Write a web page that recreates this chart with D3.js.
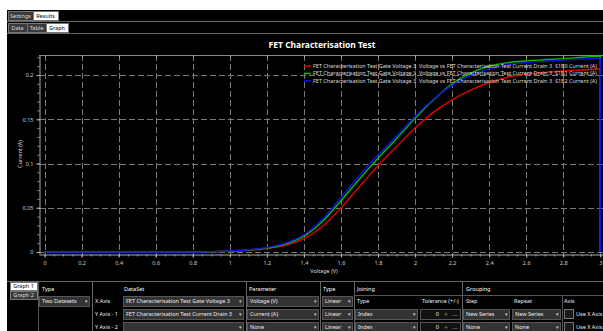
<!DOCTYPE html>
<html>
<head>
<meta charset="utf-8">
<script src="https://cdn.jsdelivr.net/npm/d3@7"></script>
<style>
body { margin: 0; background: #fff; overflow: hidden; }
svg { display: block; }
text { font-family: "Noto Sans", "Open Sans", sans-serif; }
</style>
</head>
<body>
<div id="chart"></div>
<script>
// gate voltage sweep (V); last point is the drop back to zero at the end of the sweep
var voltage = [0, 0.1, 0.2, 0.3, 0.4, 0.5, 0.6, 0.7, 0.8, 0.9, 1.0, 1.1, 1.2, 1.3, 1.4, 1.5,
	1.6, 1.7, 1.8, 1.9, 2.0, 2.1, 2.2, 2.3, 2.4, 2.5, 2.6, 2.7, 2.8, 2.9, 3.0, 3.0];
var currentS1B0 = [0, 0, 0, 0, 0, 0, 0, 0, 0, 0.0002, 0.0008, 0.0018, 0.0038, 0.0075, 0.015, 0.029,
	0.05, 0.074, 0.0975, 0.119, 0.14, 0.158, 0.172, 0.183, 0.1915, 0.1975, 0.201, 0.203, 0.2045, 0.2057, 0.2068, 0];
var currentS1B1 = [0, 0, 0, 0, 0, 0, 0, 0, 0, 0.0003, 0.001, 0.0022, 0.0045, 0.009, 0.018, 0.0345,
	0.058, 0.0825, 0.106, 0.128, 0.151, 0.172, 0.19, 0.202, 0.21, 0.214, 0.216, 0.2172, 0.2185, 0.22, 0.2215, 0];
var currentS1B2 = [0, 0, 0, 0, 0, 0, 0, 0, 0, 0.0004, 0.0012, 0.0025, 0.005, 0.01, 0.0195, 0.037,
	0.0615, 0.0865, 0.1095, 0.131, 0.153, 0.1725, 0.1885, 0.1995, 0.207, 0.2115, 0.214, 0.2155, 0.2168, 0.2178, 0.2188, 0];

var seriesNames = [
	"FET Characterisation Test Gate Voltage 3  Voltage vs FET Characterisation Test Current Drain 3  S1B0 Current (A)",
	"FET Characterisation Test Gate Voltage 3  Voltage vs FET Characterisation Test Current Drain 3  S1B1 Current (A)",
	"FET Characterisation Test Gate Voltage 3  Voltage vs FET Characterisation Test Current Drain 3  S1B2 Current (A)"
];
var xTickValues = [0, 0.2, 0.4, 0.6, 0.8, 1, 1.2, 1.4, 1.6, 1.8, 2, 2.2, 2.4, 2.6, 2.8, 3];
var yTickValues = [0, 0.05, 0.1, 0.15, 0.2];

var colors = ["#e00000", "#00c000", "#1010ee"];

var W = 603, H = 331,
	pLeft = 39, pRight = 604, pTop = 55, pBottom = 254,
	svg, x, y, i, line, g;

svg = d3.select("#chart").append("svg")
	.attr("width", W)
	.attr("height", H);

// window frame
svg.append("rect").attr("x", 0).attr("y", 0).attr("width", W).attr("height", H).attr("fill", "#fff");
svg.append("rect").attr("x", 7).attr("y", 10).attr("width", W - 7).attr("height", H - 10).attr("fill", "#000");

function txt(px, py, s, size, fill, anchor, weight) {
	return svg.append("text")
		.attr("x", px).attr("y", py)
		.attr("dy", "0.35em")
		.attr("font-size", size)
		.attr("fill", fill || "#eee")
		.attr("text-anchor", anchor || "start")
		.attr("font-weight", weight || "normal")
		.style("white-space", "pre")
		.text(s);
}

function hline(x1, x2, py, c) {
	svg.append("line").attr("x1", x1).attr("x2", x2).attr("y1", py).attr("y2", py)
		.attr("stroke", c || "#555").attr("stroke-width", 1).attr("shape-rendering", "crispEdges");
}

function vline(px, y1, y2, c) {
	svg.append("line").attr("x1", px).attr("x2", px).attr("y1", y1).attr("y2", y2)
		.attr("stroke", c || "#555").attr("stroke-width", 1).attr("shape-rendering", "crispEdges");
}

function tab(px, py, w, h, s, selected) {
	svg.append("rect").attr("x", px + 0.5).attr("y", py + 0.5).attr("width", w).attr("height", h)
		.attr("fill", selected ? "#fff" : "#3a3a3a").attr("stroke", "#777");
	txt(px + w / 2, py + h / 2 + 0.5, s, 5.5, selected ? "#000" : "#ddd", "middle");
}

function dropdown(px, py, w, s) {
	svg.append("rect").attr("x", px + 0.5).attr("y", py + 0.5).attr("width", w).attr("height", 10)
		.attr("fill", "#333").attr("stroke", "#555");
	txt(px + 3, py + 5.5, s, 5.5, "#eee");
	txt(px + w - 3, py + 5.5, "\u25BE", 5, "#ccc", "middle");
}

// tabs
tab(8, 11, 25, 9, "Settings", false);
tab(33, 11, 25, 9, "Results", true);
hline(7, W, 21.5, "#666");
tab(8, 23, 19, 9, "Data", false);
tab(27, 23, 19, 9, "Table", false);
tab(46, 23, 22, 9, "Graph", true);
hline(7, W, 33.5, "#666");

// title
txt(322, 45, "FET Characterisation Test", 8.5, "#fff", "middle", "bold");

// scales
x = d3.scaleLinear().domain([-0.03, 3.02]).range([pLeft, pRight]);
y = d3.scaleLinear().domain([-0.00226, 0.2226]).range([pBottom, pTop]);

// grid
g = svg.append("g").attr("stroke", "#7a7a7a").attr("stroke-dasharray", "6,3").attr("stroke-width", 1);
g.append("g").selectAll("line").data(xTickValues).join("line")
	.attr("x1", function (d) { return Math.round(x(d)) + 0.5; })
	.attr("x2", function (d) { return Math.round(x(d)) + 0.5; })
	.attr("y1", pTop).attr("y2", pBottom);
g.append("g").selectAll("line").data(yTickValues).join("line")
	.attr("x1", pLeft).attr("x2", pRight)
	.attr("y1", function (d) { return Math.round(y(d)) + 0.5; })
	.attr("y2", function (d) { return Math.round(y(d)) + 0.5; });

// top frame
hline(pLeft, pRight, pTop + 0.5, "#888");
svg.append("g").selectAll("line").data(xTickValues).join("line")
	.attr("x1", function (d) { return Math.round(x(d)) + 0.5; })
	.attr("x2", function (d) { return Math.round(x(d)) + 0.5; })
	.attr("y1", pTop).attr("y2", pTop + 3).attr("stroke", "#aaa");

function styleAxis(sel) {
	sel.selectAll("path").attr("stroke", "#aaa");
	sel.selectAll("line").attr("stroke", "#bbb");
	sel.selectAll("text").attr("fill", "#ccc").attr("font-size", 5.5)
		.attr("font-family", "'Noto Sans', sans-serif");
}

// x axis
svg.append("g").attr("transform", "translate(0," + (pBottom + 0.5) + ")")
	.call(d3.axisBottom(x).tickValues(d3.range(0, 3.001, 0.05)).tickSize(2).tickFormat(""))
	.call(function (s) { s.select("path").remove(); s.selectAll("line").attr("stroke", "#999"); });
svg.append("g").attr("transform", "translate(0," + (pBottom + 0.5) + ")")
	.call(d3.axisBottom(x).tickValues(xTickValues).tickSize(3).tickSizeOuter(0).tickPadding(4).tickFormat(d3.format("~g")))
	.call(styleAxis);

// y axis
svg.append("g").attr("transform", "translate(" + (pLeft + 0.5) + ",0)")
	.call(d3.axisLeft(y).tickValues(d3.range(0, 0.2201, 0.01)).tickSize(2).tickFormat(""))
	.call(function (s) { s.select("path").remove(); s.selectAll("line").attr("stroke", "#999"); });
svg.append("g").attr("transform", "translate(" + (pLeft + 0.5) + ",0)")
	.call(d3.axisLeft(y).tickValues(yTickValues).tickSize(3).tickSizeOuter(0).tickPadding(3).tickFormat(d3.format("~g")))
	.call(styleAxis);

// axis titles
txt(324, 271, "Voltage (V)", 5.5, "#ddd", "middle");
svg.append("text")
	.attr("transform", "translate(20,154) rotate(-90)")
	.attr("dy", "0.35em")
	.attr("text-anchor", "middle")
	.attr("font-size", 5.5)
	.attr("fill", "#ddd")
	.text("Current (A)");

// curves
var series = [currentS1B0, currentS1B1, currentS1B2];
line = d3.line()
	.x(function (d) { return x(d[0]); })
	.y(function (d) { return y(d[1]); })
	.curve(d3.curveMonotoneX);

var plotArea = svg.append("g");
for (i = 0; i < series.length; i++)
{
	var pts = voltage.map(function (v, k) { return [v, series[i][k]]; }),
		last = pts[pts.length - 1],
		path = line(pts.slice(0, -1)) + "L" + x(last[0]) + "," + y(last[1]);

	plotArea.append("path")
		.attr("d", path)
		.attr("fill", "none")
		.attr("stroke", colors[i])
		.attr("stroke-width", 1.4);
}

// legend
var legend = svg.append("g");
for (i = 0; i < seriesNames.length; i++)
{
	var ly = 66 + i * 7.5;
	legend.append("line")
		.attr("x1", 304).attr("x2", 311).attr("y1", ly).attr("y2", ly)
		.attr("stroke", colors[i]).attr("stroke-width", 1.5);
	legend.append("text")
		.attr("x", 313).attr("y", ly)
		.attr("dy", "0.35em")
		.attr("font-size", 5.6)
		.attr("fill", "#ddd")
		.attr("textLength", 284)
		.attr("lengthAdjust", "spacingAndGlyphs")
		.style("white-space", "pre")
		.text(seriesNames[i]);
}

// bottom settings panel
hline(7, W, 281.5, "#666");
tab(10, 282, 27, 8, "Graph 1", true);
tab(10, 291, 27, 8, "Graph 2", false);
vline(38.5, 282, H, "#555");
txt(42, 289, "Type", 5.5, "#fff");
dropdown(39, 296, 50, "Two Datasets");
vline(92.5, 282, H, "#666");

txt(95, 301.5, "X Axis", 5.5, "#eee");
txt(95, 314.5, "Y Axis - 1", 5.5, "#eee");
txt(95, 327.5, "Y Axis - 2", 5.5, "#eee");

txt(124, 289, "DataSet", 5.5, "#fff");
dropdown(123, 296, 120, "FET Characterisation Test Gate Voltage 3");
dropdown(123, 309, 120, "FET Characterisation Test Current Drain 3");
dropdown(123, 322, 120, "");
vline(246.5, 282, H, "#666");

txt(249, 289, "Parameter", 5.5, "#fff");
dropdown(247, 296, 71, "Voltage (V)");
dropdown(247, 309, 71, "Current (A)");
dropdown(247, 322, 71, "None");
vline(320.5, 282, H, "#666");

txt(323, 289, "Type", 5.5, "#fff");
dropdown(322, 296, 30, "Linear");
dropdown(322, 309, 30, "Linear");
dropdown(322, 322, 30, "Linear");
vline(354.5, 282, H, "#666");

txt(357, 289, "Joining", 5.5, "#fff");
hline(354, 462, 295.5, "#555");
txt(357, 301.5, "Type", 5.5, "#eee");
txt(422, 301.5, "Tolerance (+/-)", 5.5, "#eee");
dropdown(355, 309, 62, "Index");
dropdown(355, 322, 62, "Index");
[309, 322].forEach(function (ry) {
	svg.append("rect").attr("x", 420.5).attr("y", ry + 0.5).attr("width", 40).attr("height", 10)
		.attr("fill", "#111").attr("stroke", "#555");
	txt(439, ry + 5.5, "0", 5.5, "#eee", "end");
	txt(446, ry + 5.5, "+", 7, "#888", "middle");
	txt(455, ry + 5.5, "\u2014", 6, "#888", "middle");
});
vline(462.5, 282, H, "#666");

txt(466, 289, "Grouping", 5.5, "#fff");
hline(462, W, 295.5, "#555");
txt(466, 301.5, "Step", 5.5, "#eee");
txt(514, 301.5, "Repeat", 5.5, "#eee");
dropdown(463, 309, 46, "New Series");
dropdown(463, 322, 46, "None");
dropdown(512, 309, 48, "New Series");
dropdown(512, 322, 48, "None");
vline(562.5, 296, H, "#555");

txt(564, 301.5, "Axis", 5.5, "#eee");
[309, 322].forEach(function (ry) {
	svg.append("rect").attr("x", 564.5).attr("y", ry + 0.5).attr("width", 9).attr("height", 9)
		.attr("fill", "#1a1a1a").attr("stroke", "#777");
	txt(576, ry + 5.5, "Use X Axis", 5.5, "#eee");
});
</script>
</body>
</html>
